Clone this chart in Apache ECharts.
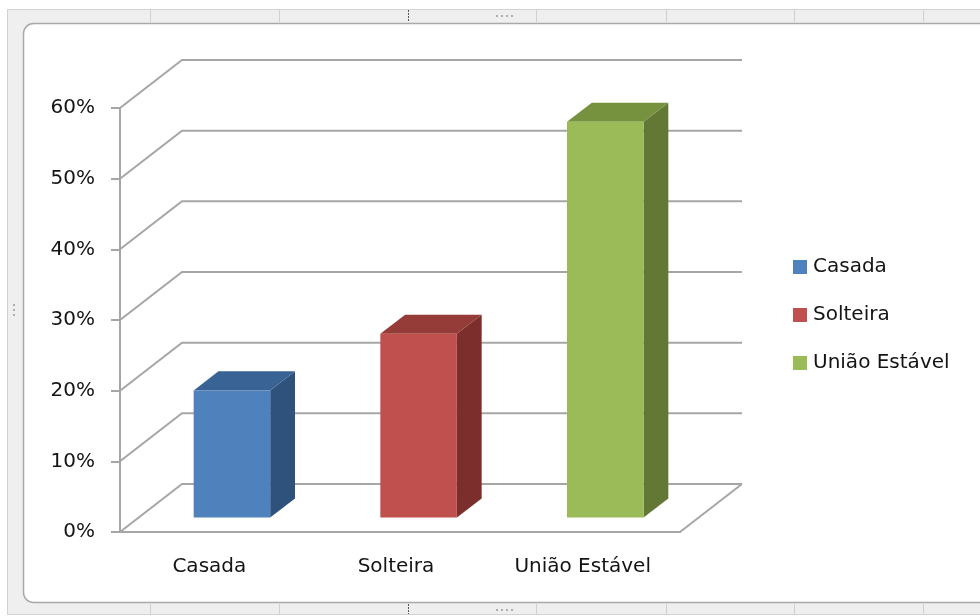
<!DOCTYPE html>
<html><head><meta charset="utf-8">
<script src="https://cdn.jsdelivr.net/npm/echarts@6/dist/echarts.min.js"></script>
<style>html,body{margin:0;padding:0;background:#fff}#c{width:980px;height:616px}</style>
</head><body><div id="c"></div>
<script>
const categories = ['Casada', 'Solteira', 'União Estável'];
const values = [0.18, 0.26, 0.56];
const yTicks = [0, 0.1, 0.2, 0.3, 0.4, 0.5, 0.6];
const frontColors = ['#4f81bd', '#c0504d', '#9bbb59'];
const topColors = ['#3a6395', '#953b38', '#77923f'];
const sideColors = ['#2f527c', '#7b2e2c', '#627834'];

const DEPTH = [62, -48];
const BAR_FRONT = 0.30, BAR_DEPTH = 0.40, BAR_WIDTH = 0.41;
const GRID_COLOR = '#a6a6a6';
const FONT = 'DejaVu Sans';
const TEXT = '#141414';

function wallItem(params, api) {
  const v = api.value(1);
  const bw = api.size([1, 0])[0];
  const pL = api.coord([0, v]);
  const pR = api.coord([categories.length - 1, v]);
  const xL = pL[0] - bw / 2, xR = pR[0] + bw / 2, y = pL[1];
  const children = [{
    type: 'polyline',
    shape: { points: [[xL, y], [xL + DEPTH[0], y + DEPTH[1]], [xR + DEPTH[0], y + DEPTH[1]]] },
    style: { stroke: GRID_COLOR, lineWidth: 2, fill: null }
  }];
  if (v === 0) {
    children.push({ type: 'line', shape: { x1: xR, y1: y, x2: xR + DEPTH[0], y2: y + DEPTH[1] },
      style: { stroke: GRID_COLOR, lineWidth: 2 } });
  }
  return { type: 'group', children };
}

function barItem(i) {
  return function (params, api) {
    const c = api.value(0), v = api.value(1);
    const bw = api.size([1, 0])[0];
    const top = api.coord([c, v]), bot = api.coord([c, 0]);
    const ox = DEPTH[0] * BAR_FRONT, oy = DEPTH[1] * BAR_FRONT;
    const dx = DEPTH[0] * BAR_DEPTH, dy = DEPTH[1] * BAR_DEPTH;
    const w = bw * BAR_WIDTH;
    const xL = top[0] - w / 2 + ox, xR = xL + w, yT = top[1] + oy, yB = bot[1] + oy;
    return {
      type: 'group',
      children: [
        { type: 'polygon', shape: { points: [[xR, yT], [xR + dx, yT + dy], [xR + dx, yB + dy], [xR, yB]] },
          style: { fill: sideColors[i] } },
        { type: 'polygon', shape: { points: [[xL, yT], [xR, yT], [xR + dx, yT + dy], [xL + dx, yT + dy]] },
          style: { fill: topColors[i] } },
        { type: 'rect', shape: { x: xL, y: yT, width: w, height: yB - yT },
          style: { fill: frontColors[i] } }
      ]
    };
  };
}

const sepX = [150, 279, 408, 536, 666, 794, 923];
const frameGraphics = [
  { type: 'rect', z: -10, shape: { x: 7.5, y: 9.5, width: 990, height: 605 },
    style: { fill: '#efefef', stroke: '#d2d2d2', lineWidth: 1 } },
  { type: 'rect', z: -9, shape: { x: 23.5, y: 23.5, width: 980, height: 579, r: 10 },
    style: { fill: '#ffffff', stroke: '#a9a9a9', lineWidth: 1.5 } }
];
sepX.forEach(function (x) {
  const dark = x === 408;
  frameGraphics.push({ type: 'line', z: -9, shape: { x1: x + 0.5, y1: 10, x2: x + 0.5, y2: 22 },
    style: { stroke: dark ? '#555' : '#d0d0d0', lineWidth: 1, lineDash: dark ? [2, 1] : null } });
  frameGraphics.push({ type: 'line', z: -9, shape: { x1: x + 0.5, y1: 604, x2: x + 0.5, y2: 614 },
    style: { stroke: dark ? '#555' : '#d0d0d0', lineWidth: 1, lineDash: dark ? [2, 1] : null } });
});
[497, 502, 507, 512].forEach(function (x) {
  frameGraphics.push({ type: 'circle', z: -9, shape: { cx: x, cy: 16, r: 1 }, style: { fill: '#999' } });
  frameGraphics.push({ type: 'circle', z: -9, shape: { cx: x, cy: 610, r: 1 }, style: { fill: '#999' } });
});
[305, 310, 315].forEach(function (y) {
  frameGraphics.push({ type: 'circle', z: -9, shape: { cx: 14, cy: y, r: 1 }, style: { fill: '#999' } });
});

const chart = echarts.init(document.getElementById('c'), null, { renderer: 'canvas' });
chart.setOption({
  backgroundColor: '#ffffff',
  animation: false,
  graphic: frameGraphics,
  grid: { left: 120, right: 300, top: 108, bottom: 84, containLabel: false },
  xAxis: {
    type: 'category', data: categories,
    axisLine: { lineStyle: { color: GRID_COLOR, width: 2 } },
    axisTick: { length: 9, lineStyle: { color: GRID_COLOR, width: 2 } },
    axisLabel: { margin: 25, color: TEXT, fontSize: 20, fontFamily: FONT, padding: [0, 8, 0, 0] },
    splitLine: { show: false }
  },
  yAxis: {
    type: 'value', min: 0, max: 0.6, interval: 0.1,
    axisLine: { show: true, lineStyle: { color: GRID_COLOR, width: 2 } },
    axisTick: { show: true, length: 9, lineStyle: { color: GRID_COLOR, width: 2 } },
    axisLabel: { margin: 25, color: TEXT, fontSize: 20, fontFamily: FONT,
      formatter: function (v) { return Math.round(v * 100) + '%'; } },
    splitLine: { show: false }
  },
  legend: {
    data: categories, orient: 'vertical', left: 793, top: 257, padding: 0,
    icon: 'rect', itemWidth: 14, itemHeight: 14, itemGap: 28,
    textStyle: { color: TEXT, fontSize: 20, fontFamily: FONT, padding: [0, 0, 0, 1] }
  },
  series: [{
    type: 'custom', name: 'walls', silent: true, z: 1,
    data: yTicks.map(function (t) { return [0, t]; }),
    renderItem: wallItem
  }].concat(categories.map(function (name, i) {
    return { type: 'custom', name: name, z: 3, data: [[i, values[i]]],
      itemStyle: { color: frontColors[i] }, renderItem: barItem(i) };
  }))
});
</script></body></html>
